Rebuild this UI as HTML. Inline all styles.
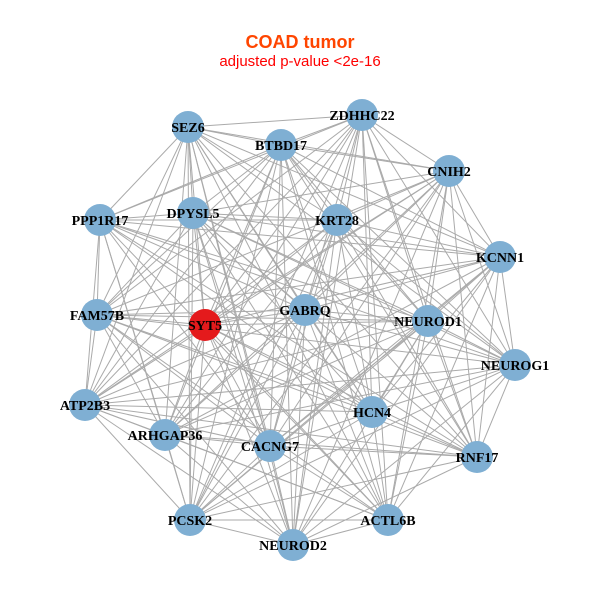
<!DOCTYPE html>
<html><head><meta charset="utf-8"><style>
html,body{margin:0;padding:0;background:#fff;width:600px;height:600px;overflow:hidden}
</style></head><body>
<svg id="s" width="600" height="600" xmlns="http://www.w3.org/2000/svg">
<text x="300" y="48" text-anchor="middle" font-family="Liberation Sans, sans-serif" font-weight="bold" font-size="18" fill="#FF4500">COAD tumor</text>
<text x="300" y="66" text-anchor="middle" font-family="Liberation Sans, sans-serif" font-size="15" fill="#FF0000">adjusted p-value &lt;2e-16</text>
<g id="e" stroke="#aaaaaa" stroke-width="1"></g>
<g id="n"></g>
<g id="t" font-family="Liberation Serif, serif" font-weight="bold" font-size="14" text-anchor="middle" fill="#000"></g>
</svg>
<script>
var N=[["SEZ6",188,127],["ZDHHC22",362,115],["BTBD17",281,145],["CNIH2",449,171],["PPP1R17",100,220],["DPYSL5",193,213],["KRT28",337,220],["KCNN1",500,257],["FAM57B",97,315],["SYT5",205,325],["GABRQ",305,310],["NEUROD1",428,321],["NEUROG1",515,365],["ATP2B3",85,405],["ARHGAP36",165,435],["HCN4",372,412],["CACNG7",270,446],["RNF17",477,457],["PCSK2",190,520],["ACTL6B",388,520],["NEUROD2",293,545]];
var ns="http://www.w3.org/2000/svg",E=document.getElementById("e"),G=document.getElementById("n"),T=document.getElementById("t");
for(var i=0;i<N.length;i++)for(var j=i+1;j<N.length;j++){if((i*7+j*3)%11==0)continue;var l=document.createElementNS(ns,"line");l.setAttribute("x1",N[i][1]);l.setAttribute("y1",N[i][2]);l.setAttribute("x2",N[j][1]);l.setAttribute("y2",N[j][2]);E.appendChild(l);}
N.forEach(function(d){var c=document.createElementNS(ns,"circle");c.setAttribute("cx",d[1]);c.setAttribute("cy",d[2]);c.setAttribute("r",16);c.setAttribute("fill",d[0]=="SYT5"?"#E41A1C":"#7FAFD3");G.appendChild(c);var t=document.createElementNS(ns,"text");t.setAttribute("x",d[1]);t.setAttribute("y",d[2]+5);t.textContent=d[0];T.appendChild(t);});
</script>
</body></html>
